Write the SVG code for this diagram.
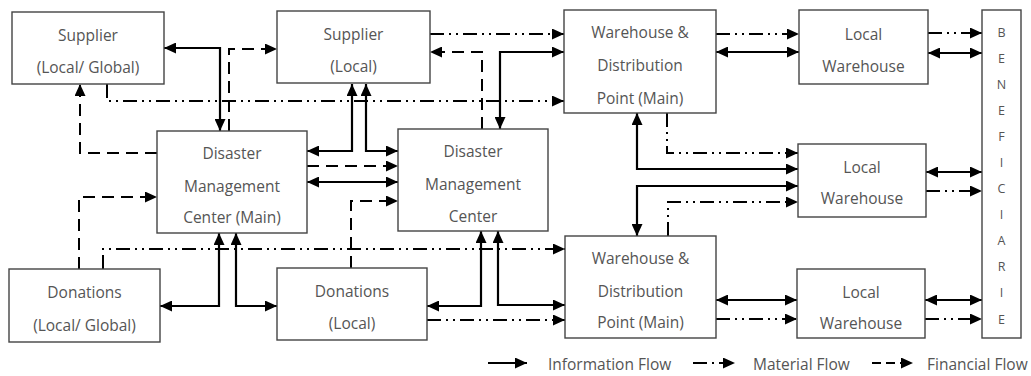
<svg xmlns="http://www.w3.org/2000/svg" width="1031" height="376" viewBox="0 0 1031 376">
<defs>
<marker id="ah" markerUnits="userSpaceOnUse" markerWidth="13" markerHeight="11" refX="12" refY="5.5" orient="auto-start-reverse"><path d="M0,0 L12,5.5 L0,11 z" fill="#000"/></marker>
<style>
.box{fill:#fff;stroke:#444;stroke-width:1.4}
.t{font-family:"Open Sans","Noto Sans",sans-serif;font-size:15.5px;fill:#555;text-anchor:middle}
.lt{font-family:"Open Sans","Noto Sans",sans-serif;font-size:15.5px;fill:#555}
.bt{font-family:"Open Sans","Noto Sans",sans-serif;font-size:12.5px;fill:#555;text-anchor:middle}
.info{fill:none;stroke:#000;stroke-width:2.2;marker-start:url(#ah);marker-end:url(#ah)}
.info1{fill:none;stroke:#000;stroke-width:2.2;marker-end:url(#ah)}
.mat{fill:none;stroke:#000;stroke-width:2;stroke-dasharray:14 5 2 5 2 5;marker-end:url(#ah)}
.fin{fill:none;stroke:#000;stroke-width:2;stroke-dasharray:12 7;marker-end:url(#ah)}
</style>
</defs>
<rect width="1031" height="376" fill="#fff"/>
<g id="connectors">
<path class="info" d="M164,48 H220 V131"/>
<path class="info" d="M564,52 H500 V129"/>
<path class="info" d="M352,84 V151 H307"/>
<path class="info" d="M366,84 V151 H398"/>
<path class="info" d="M307,182 H398"/>
<path class="info" d="M160,306 H219 V233"/>
<path class="info" d="M236,233 V306 H277"/>
<path class="info" d="M427,306 H481 V231"/>
<path class="info" d="M498,231 V305 H565"/>
<path class="info" d="M716,52 H799"/>
<path class="info" d="M928,53 H982"/>
<path class="info" d="M637,113 V169 H798"/>
<path class="info" d="M798,186 H637 V236"/>
<path class="info" d="M926,172 H982"/>
<path class="info" d="M716,300 H797"/>
<path class="info" d="M925,300 H982"/>
<path class="mat" d="M107,84 V101 H564"/>
<path class="mat" d="M430,34 H564"/>
<path class="mat" d="M103,269 V249 H565"/>
<path class="mat" d="M427,320 H565"/>
<path class="mat" d="M716,34 H799"/>
<path class="mat" d="M928,33 H982"/>
<path class="mat" d="M667,113 V153 H798"/>
<path class="mat" d="M668,236 V202 H798"/>
<path class="mat" d="M926,191 H982"/>
<path class="mat" d="M716,319 H797"/>
<path class="mat" d="M925,319 H982"/>
<path class="fin" d="M229,131 V49 H277"/>
<path class="fin" d="M157,153 H80 V84"/>
<path class="fin" d="M482,129 V52 H430"/>
<path class="fin" d="M307,166 H398"/>
<path class="fin" d="M351,268 V201 H398"/>
<path class="fin" d="M79,269 V197 H157"/>
</g>
<g id="supplier-global"><rect class="box" x="12" y="12" width="152" height="72"/><text class="t" x="88" y="41">Supplier</text><text class="t" x="88" y="73">(Local/ Global)</text></g>
<g id="supplier-local"><rect class="box" x="277" y="11" width="153" height="72"/><text class="t" x="353.5" y="40">Supplier</text><text class="t" x="353.5" y="72">(Local)</text></g>
<g id="warehouse-top"><rect class="box" x="564" y="10" width="152" height="103"/><text class="t" x="640" y="38">Warehouse &amp;</text><text class="t" x="640" y="71">Distribution</text><text class="t" x="640" y="104">Point (Main)</text></g>
<g id="local-wh-top"><rect class="box" x="799" y="10" width="129" height="74"/><text class="t" x="863.5" y="40">Local</text><text class="t" x="863.5" y="72">Warehouse</text></g>
<g id="dmc-main"><rect class="box" x="157" y="131" width="150" height="102"/><text class="t" x="232" y="159">Disaster</text><text class="t" x="232" y="192">Management</text><text class="t" x="232" y="223">Center (Main)</text></g>
<g id="dmc"><rect class="box" x="398" y="129" width="150" height="102"/><text class="t" x="473" y="157">Disaster</text><text class="t" x="473" y="190">Management</text><text class="t" x="473" y="222">Center</text></g>
<g id="local-wh-mid"><rect class="box" x="798" y="144" width="128" height="73"/><text class="t" x="862" y="173">Local</text><text class="t" x="862" y="204">Warehouse</text></g>
<g id="donations-global"><rect class="box" x="9" y="269" width="151" height="73"/><text class="t" x="84.5" y="298">Donations</text><text class="t" x="84.5" y="331">(Local/ Global)</text></g>
<g id="donations-local"><rect class="box" x="277" y="268" width="150" height="72"/><text class="t" x="352" y="297">Donations</text><text class="t" x="352" y="329">(Local)</text></g>
<g id="warehouse-bottom"><rect class="box" x="565" y="236" width="151" height="102"/><text class="t" x="640.5" y="264">Warehouse &amp;</text><text class="t" x="640.5" y="297">Distribution</text><text class="t" x="640.5" y="328">Point (Main)</text></g>
<g id="local-wh-bottom"><rect class="box" x="797" y="269" width="128" height="69"/><text class="t" x="861" y="298">Local</text><text class="t" x="861" y="329">Warehouse</text></g>
<g id="beneficiaries"><rect class="box" x="982" y="10" width="39" height="328"/>
<text class="bt" x="1001.5" y="37">B</text><text class="bt" x="1001.5" y="63">E</text><text class="bt" x="1001.5" y="89">N</text><text class="bt" x="1001.5" y="115">E</text><text class="bt" x="1001.5" y="141">F</text><text class="bt" x="1001.5" y="167">I</text><text class="bt" x="1001.5" y="193">C</text><text class="bt" x="1001.5" y="219">I</text><text class="bt" x="1001.5" y="245">A</text><text class="bt" x="1001.5" y="271">R</text><text class="bt" x="1001.5" y="297">I</text><text class="bt" x="1001.5" y="324">E</text></g>
<g id="legend">
<path class="info1" d="M488,363 H527"/><text class="lt" x="548" y="370">Information Flow</text>
<path class="mat" style="stroke-dasharray:14 5 2 5" d="M693,363 H735"/><text class="lt" x="753" y="370">Material Flow</text>
<path class="fin" style="stroke-dasharray:9 5" d="M872,363 H913"/><text class="lt" x="927" y="370">Financial Flow</text>
</g>
</svg>
